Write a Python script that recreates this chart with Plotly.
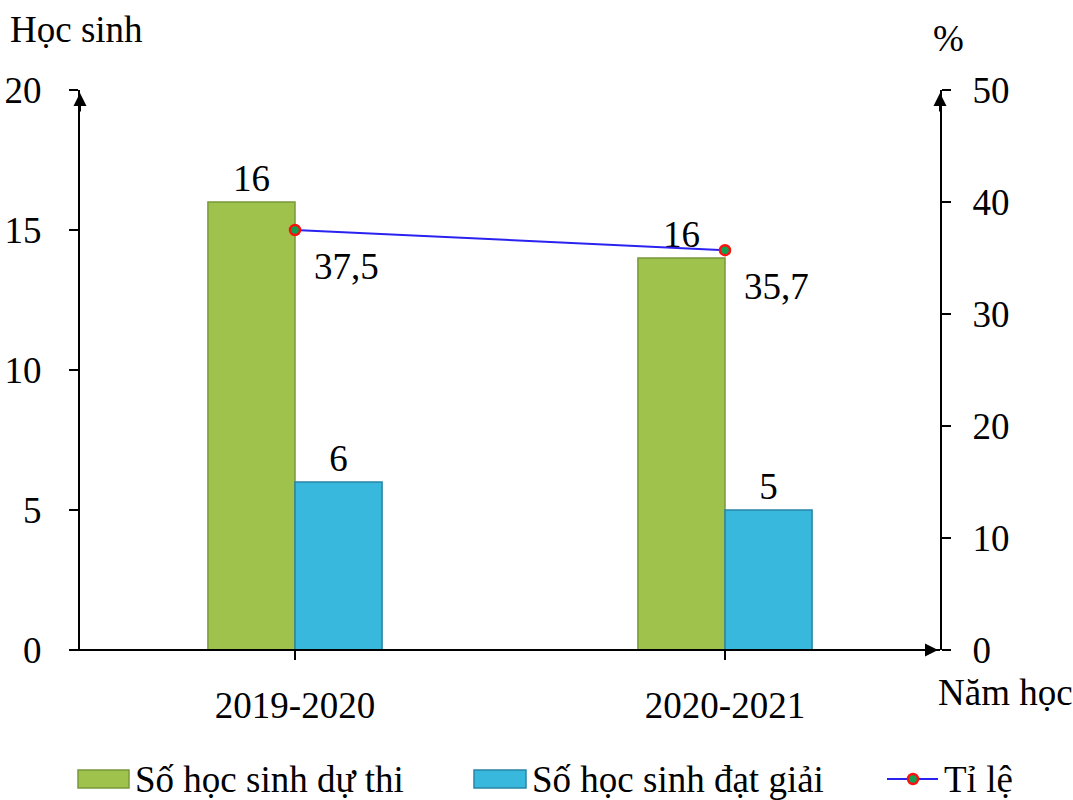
import plotly.graph_objects as go

# ---- data ----
years = ["2019-2020", "2020-2021"]
du_thi = [16, 14]            # bar heights as drawn
du_thi_labels = ["16", "16"]  # labels as printed
dat_giai = [6, 5]
dat_giai_labels = ["6", "5"]
ti_le = [37.5, 35.7]
ti_le_labels = ["37,5", "35,7"]
names = ["Số học sinh dự thi", "Số học sinh đạt giải", "Tỉ lệ"]

FONT = "Liberation Serif, Times New Roman, serif"
FS = 37
GREEN, GREEN_L = "#9fc24d", "#7a983a"
BLUE, BLUE_L = "#38b8dc", "#2785a5"
LINE_C, MK_FILL, MK_LINE = "#2a22f0", "#10a050", "#ff1010"

fig = go.Figure()
fig.add_trace(go.Bar(x=years, y=du_thi, name=names[0], text=du_thi_labels,
                     textposition="outside", cliponaxis=False,
                     marker=dict(color=GREEN, line=dict(color=GREEN_L, width=1.5)),
                     textfont=dict(family=FONT, size=FS, color="black"), showlegend=False))
fig.add_trace(go.Bar(x=years, y=dat_giai, name=names[1], text=dat_giai_labels,
                     textposition="outside", cliponaxis=False,
                     marker=dict(color=BLUE, line=dict(color=BLUE_L, width=1.5)),
                     textfont=dict(family=FONT, size=FS, color="black"), showlegend=False))
fig.add_trace(go.Scatter(x=years, y=ti_le, name=names[2], yaxis="y2", mode="lines+markers",
                         line=dict(color=LINE_C, width=2),
                         marker=dict(size=10, color=MK_FILL, line=dict(color=MK_LINE, width=2.5)),
                         cliponaxis=False, showlegend=False))

for x, y, t in zip(years, ti_le, ti_le_labels):
    fig.add_annotation(x=x, y=y, yref="y2", text=t, showarrow=False, xanchor="left",
                       yanchor="middle", xshift=17, yshift=-36,
                       font=dict(family=FONT, size=FS, color="black"))

ann_font = dict(family=FONT, size=FS, color="black")
PW, PH = 860, 560
def px(v):
    return (v - 80) / PW
def py(v):
    return (650 - v) / PH

fig.add_annotation(xref="paper", yref="paper", x=px(8), y=py(30),
                   text="Học sinh", showarrow=False, xanchor="left", yanchor="middle", font=ann_font)
fig.add_annotation(xref="paper", yref="paper", x=px(948), y=py(38),
                   text="%", showarrow=False, xanchor="center", yanchor="middle", font=ann_font)
fig.add_annotation(xref="paper", yref="paper", x=px(936), y=py(692),
                   text="Năm học", showarrow=False, xanchor="left", yanchor="middle", font=ann_font)
# arrows
for xp in (0, 1):
    fig.add_annotation(xref="paper", yref="paper", x=xp, y=1 - 3 / PH, ax=0, ay=20,
                       showarrow=True, arrowhead=2, arrowsize=1.3, arrowwidth=2,
                       arrowcolor="black", text="")
fig.add_annotation(xref="paper", yref="paper", x=1 - 2 / PW, y=0, ax=-20, ay=0,
                   showarrow=True, arrowhead=2, arrowsize=1.3, arrowwidth=2,
                   arrowcolor="black", text="")
fig.add_shape(type="line", xref="paper", yref="paper", x0=px(70), x1=1, y0=0, y1=0,
              line=dict(color="black", width=2))

# custom legend
LY = py(779)
fig.add_shape(type="rect", xref="paper", yref="paper", x0=px(78), x1=px(129),
              y0=LY - 9 / PH, y1=LY + 9 / PH, fillcolor=GREEN, line=dict(color=GREEN_L, width=1.5))
fig.add_shape(type="rect", xref="paper", yref="paper", x0=px(474), x1=px(526),
              y0=LY - 9 / PH, y1=LY + 9 / PH, fillcolor=BLUE, line=dict(color=BLUE_L, width=1.5))
fig.add_shape(type="line", xref="paper", yref="paper", x0=px(887), x1=px(938),
              y0=LY, y1=LY, line=dict(color=LINE_C, width=2))
fig.add_shape(type="circle", xref="paper", yref="paper", x0=px(908), x1=px(918),
              y0=LY - 5 / PH, y1=LY + 5 / PH, fillcolor=MK_FILL, line=dict(color=MK_LINE, width=2.5))
for xl, t in zip((133, 530, 942), names):
    fig.add_annotation(xref="paper", yref="paper", x=px(xl), y=LY, text=t, showarrow=False,
                       xanchor="left", yanchor="middle", font=ann_font)

axis_common = dict(ticks="outside", ticklen=9, tickwidth=2, tickcolor="black",
                   showgrid=False, zeroline=False, automargin=False,
                   tickfont=dict(family=FONT, size=FS, color="black"))
fig.update_layout(
    width=1073, height=800,
    margin=dict(l=80, r=133, t=90, b=150, autoexpand=False),
    paper_bgcolor="white", plot_bgcolor="white",
    barmode="group", bargap=0.595, bargroupgap=0,
    font=dict(family=FONT, size=FS, color="black"),
    xaxis=dict(showline=False, ticklabelstandoff=14, **axis_common),
    yaxis=dict(range=[0, 20], dtick=5, showline=True, linecolor="black", linewidth=2,
               ticklabelstandoff=20, **axis_common),
    yaxis2=dict(range=[0, 50], dtick=10, overlaying="y", side="right", showline=True,
                linecolor="black", linewidth=2, ticklabelstandoff=14, **axis_common),
    showlegend=False,
)

fig.write_html("out.html", config={"displayModeBar": False},
               post_script="document.body.style.margin='0';document.body.style.overflow='hidden';")
